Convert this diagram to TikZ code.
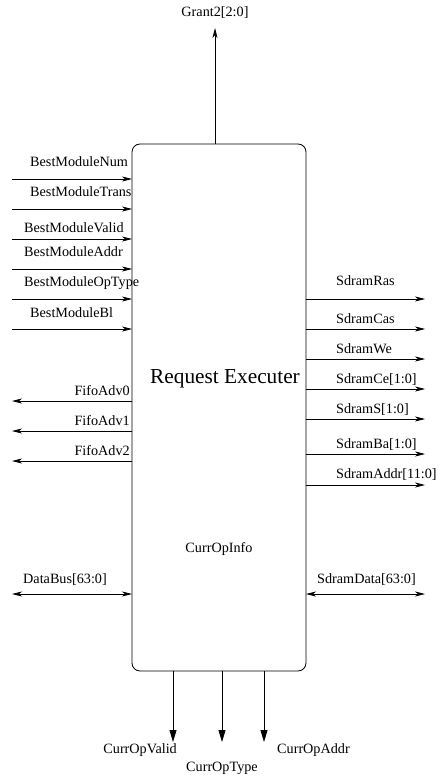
\documentclass[tikz,border=0pt]{standalone}
\usepackage{fontspec}
\setmainfont{Liberation Serif}
\usetikzlibrary{arrows.meta}
\begin{document}
\begin{tikzpicture}[x=1pt,y=-1pt,
  wire/.style={line width=0.7pt},
  sig/.style={wire, -{Stealth[length=10pt,width=5pt,inset=3pt]}},
  bus/.style={wire, {Stealth[length=10pt,width=5pt,inset=3pt]}-{Stealth[length=10pt,width=5pt,inset=3pt]}},
  outdown/.style={line width=0.8pt, -{Triangle[length=12pt,width=7pt]}},
  lbl/.style={font=\fontsize{14.2}{17}\selectfont, inner sep=0pt},
  block/.style={draw, line width=0.8pt, rounded corners=8pt, minimum width=174pt,
    minimum height=527pt, inner sep=0pt, outer sep=0pt}
]
\useasboundingbox (0,0) rectangle (438,775);

% main block
\node[block] (rex) at (219,407.5) {};
\node[font=\fontsize{21.3}{25}\selectfont, anchor=base, inner sep=0pt] (title) at (225,383.5) {Request Executer};
\node[lbl, anchor=base] (info) at (219,552) {CurrOpInfo};

% grant output on top
\coordinate (grantE) at (215,28);
\draw[sig] (grantE |- rex.north) -- (grantE);
\node[lbl, anchor=base] (grantL) at (215,17) {Grant2[2:0]};

% inputs on the left
\foreach \n/\y/\lx/\ly/\t in {
  bmn/179/30/167/BestModuleNum,
  bmt/209/30/197/BestModuleTrans,
  bmv/239/24/233/BestModuleValid,
  bma/269/24/257/BestModuleAddr,
  bmo/299/24/287/BestModuleOpType,
  bmb/329/30/317/BestModuleBl}{
  \coordinate (\n S) at (12,\y);
  \draw[sig] (\n S) -- (\n S -| rex.west);
  \node[lbl, anchor=base west] (\n L) at (\lx,\ly) {\t};
}

% outputs on the left
\foreach \n/\y/\ly/\t in {
  fa0/401/395/FifoAdv0,
  fa1/431/425/FifoAdv1,
  fa2/461/455/FifoAdv2}{
  \coordinate (\n E) at (12,\y);
  \draw[sig] (\n E -| rex.west) -- (\n E);
  \node[lbl, anchor=base east] (\n L) at (130,\ly) {\t};
}

% outputs on the right
\foreach \n/\y/\ly/\t in {
  ras/299/285/SdramRas,
  cas/329/323/SdramCas,
  we/359/353/SdramWe,
  ce/389/383/SdramCe[1:0],
  s/419/413/SdramS[1:0],
  ba/454/448/SdramBa[1:0],
  addr/485/478/SdramAddr[11:0]}{
  \coordinate (\n E) at (425,\y);
  \draw[sig] (\n E -| rex.east) -- (\n E);
  \node[lbl, anchor=base west] (\n L) at (336,\ly) {\t};
}

% bidirectional data buses
\coordinate (dbE) at (12,594);
\draw[bus] (dbE) -- (dbE -| rex.west);
\node[lbl, anchor=base west] (dbL) at (23,583) {DataBus[63:0]};
\coordinate (sdE) at (425,594);
\draw[bus] (sdE -| rex.east) -- (sdE);
\node[lbl, anchor=base west] (sdL) at (317,583) {SdramData[63:0]};

% current operation outputs at the bottom
\coordinate (vE) at (173,742);
\coordinate (tE) at (222,742);
\coordinate (aE) at (264,742);
\draw[outdown] (vE |- rex.south) -- (vE);
\draw[outdown] (tE |- rex.south) -- (tE);
\draw[outdown] (aE |- rex.south) -- (aE);
\node[lbl, anchor=base east] (vL) at (177,753) {CurrOpValid};
\node[lbl, anchor=base] (tL) at (222,771) {CurrOpType};
\node[lbl, anchor=base west] (aL) at (277,753) {CurrOpAddr};
\end{tikzpicture}
\end{document}
